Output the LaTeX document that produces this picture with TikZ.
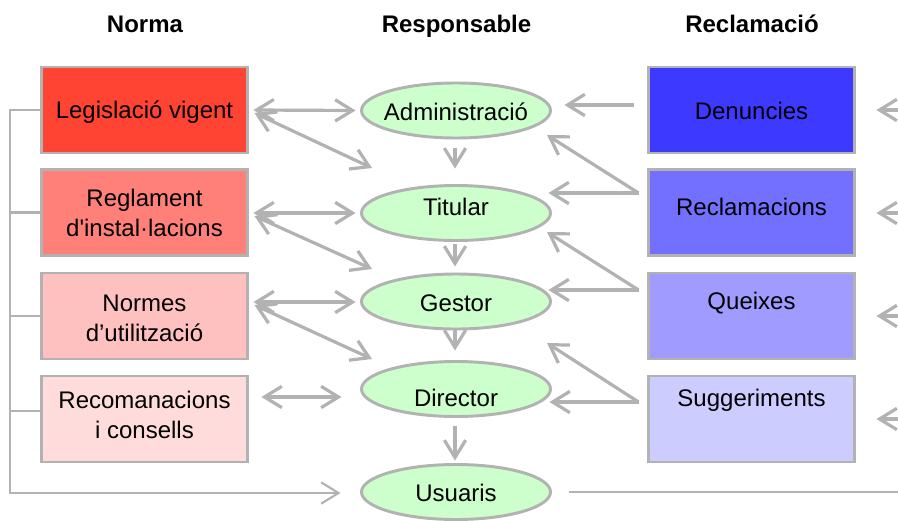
\documentclass[tikz,border=0pt]{standalone}
\usepackage{fontspec}
\setmainfont{Liberation Sans}
\usetikzlibrary{arrows.meta,shapes.geometric}
\definecolor{lgray}{RGB}{178,178,178}
\definecolor{egreen}{RGB}{204,255,204}
\definecolor{rA}{RGB}{255,68,51}
\definecolor{rB}{RGB}{255,128,120}
\definecolor{rC}{RGB}{255,192,192}
\definecolor{rD}{RGB}{255,220,220}
\definecolor{bA}{RGB}{61,57,255}
\definecolor{bB}{RGB}{116,112,255}
\definecolor{bC}{RGB}{160,156,255}
\definecolor{bD}{RGB}{204,204,255}
\begin{document}
\begin{tikzpicture}[x=0.75pt,y=-0.75pt,
  every node/.style={font=\fontsize{18}{22.5}\selectfont},
  box/.style={draw=lgray,line width=2.2pt,minimum width=154.5pt,minimum height=64.5pt,inner sep=0pt},
  ell/.style={ellipse,draw=lgray,line width=2.2pt,fill=egreen,minimum width=141.75pt,minimum height=41.25pt,inner sep=0pt},
  txt/.style={align=center,text=black,inner sep=0pt},
  hd/.style={font=\fontsize{18}{22.5}\selectfont\bfseries,anchor=base},
  con/.style={draw=lgray,line width=2.4pt},
  thin/.style={draw=lgray,line width=1.6pt},
  arr/.style={con,-{Straight Barb[length=13pt,width=16pt]}},
  tarr/.style={thin,-{Straight Barb[length=13pt,width=16pt]}},
  darr/.style={con,{Straight Barb[length=13pt,width=16pt]}-{Straight Barb[length=13pt,width=16pt]}},
]
\fill[white] (0,0) rectangle (898,521);
\useasboundingbox (0,0) rectangle (898,521);

% headers
\node[hd] (hn) at (145,32) {Norma};
\node[hd] (hr) at (456.5,32) {Responsable};
\node[hd] (hc) at (752,32) {Reclamació};

% left boxes
\node[box,fill=rA] (leg) at (144.5,110) {};
\node[txt,yshift=-1.5pt] at (leg.center) {Legislació vigent};
\node[box,fill=rB] (reg) at (144.5,212.5) {};
\node[txt] at (reg.center) {Reglament\\d\textquotesingle instal·lacions};
\node[box,fill=rC] (nor) at (144.5,316) {};
\node[txt,yshift=-1.5pt] at (nor.center) {Normes\\d’utilització};
\node[box,fill=rD] (rec) at (144.5,419) {};
\node[txt,yshift=3pt] at (rec.center) {Recomanacions\\i consells};

% right boxes
\node[box,fill=bA] (den) at (751.5,110) {};
\node[txt,yshift=-0.75pt] at (den.center) {Denuncies};
\node[box,fill=bB] (recl) at (751.5,212.5) {};
\node[txt,yshift=4.1pt] at (recl.center) {Reclamacions};
\node[box,fill=bC] (que) at (751.5,316) {};
\node[txt,yshift=9.75pt] at (que.center) {Queixes};
\node[box,fill=bD] (sug) at (751.5,419) {};
\node[txt,yshift=14.25pt] at (sug.center) {Suggeriments};

% ellipses
\node[ell] (adm) at (456,110.5) {};
\node[txt,yshift=-1.1pt] at (adm.center) {Administració};
\node[ell] (tit) at (456,213) {};
\node[txt,yshift=4.5pt] at (tit.center) {Titular};
\node[ell] (ges) at (456,301.5) {};
\node[txt,yshift=-1.1pt] at (ges.center) {Gestor};
\node[ell] (dir) at (456,389) {};
\node[txt,yshift=-6.75pt] at (dir.center) {Director};
\node[ell] (usu) at (456,492) {};
\node[txt,yshift=-0.75pt] at (usu.center) {Usuaris};

% left connectors
\draw[darr] ([shift={(4.5,0)}]leg.east) -- ([shift={(-4.5,0)}]adm.west);
\draw[darr] ([shift={(5.5,3)}]leg.east) -- ([shift={(-84,-45)}]tit.center);
\draw[darr] ([shift={(4.5,0.5)}]reg.east) -- ([shift={(-4.5,0)}]tit.west);
\draw[darr] ([shift={(5.5,3.5)}]reg.east) -- ([shift={(-84,-32.5)}]ges.center);
\draw[darr] ([shift={(4.5,-14)}]nor.east) -- ([shift={(-4.5,0.5)}]ges.west);
\draw[darr] ([shift={(5.5,-11)}]nor.east) -- ([shift={(-84,-30)}]dir.center);
\draw[darr] ([shift={(12.5,-22)}]rec.east) -- ([shift={(-18.5,8)}]dir.west);

% vertical connectors
\draw[arr] ([shift={(-1,9)}]adm.south) -- ([shift={(-1,-15.5)}]tit.north);
\draw[arr] ([shift={(-1,2.5)}]tit.south) -- ([shift={(-1,-6)}]ges.north);
\draw[arr] ([shift={(-1,-2)}]ges.south) -- ([shift={(-1,-9.5)}]dir.north);
\draw[arr] ([shift={(-1,8.5)}]dir.south) -- ([shift={(-1,-2.5)}]usu.north);

% right connectors
\draw[arr] ([shift={(-13.5,-5)}]den.west) -- ([shift={(12.5,-5.5)}]adm.east);
\draw[arr] ([shift={(-8.5,-19.5)}]recl.west) -- ([shift={(91,24.5)}]adm.center);
\draw[arr] ([shift={(-8.5,-19.5)}]recl.west) -- ([shift={(-3.5,-20)}]tit.east);
\draw[arr] ([shift={(-8.5,-26)}]que.west) -- ([shift={(91,19)}]tit.center);
\draw[arr] ([shift={(-8.5,-26)}]que.west) -- ([shift={(-3.5,-11.5)}]ges.east);
\draw[arr] ([shift={(-8.5,-17)}]sug.west) -- ([shift={(91,41.5)}]ges.center);
\draw[arr] ([shift={(-8.5,-17)}]sug.west) -- ([shift={(-2.5,13)}]dir.east);

% far right incoming arrows
\coordinate (e1) at (898,110);
\coordinate (e2) at (898,213);
\coordinate (e3) at (898,316);
\coordinate (e4) at (898,419);
\coordinate (e5) at (898,492);
\draw[arr] (e1) -- ([shift={(20.5,0)}]den.east);
\draw[arr] (e2) -- ([shift={(20.5,0.5)}]recl.east);
\draw[arr] (e3) -- ([shift={(20.5,0)}]que.east);
\draw[arr] (e4) -- ([shift={(20.5,0)}]sug.east);
\draw[thin] ([shift={(17,0)}]usu.east) -- (e5);

% left bracket
\coordinate (br) at (10,110);
\coordinate (brb) at (10,493);
\coordinate (rt) at ([shift={(0,-8)}]rec.west);
\draw[tarr] (leg.west) -- (br) -- (brb) -- ([shift={(-19.5,1)}]usu.west);
\draw[thin] (reg.west) -- (reg.west -| br);
\draw[thin] (nor.west) -- (nor.west -| br);
\draw[thin] (rt) -- (rt -| br);
\end{tikzpicture}
\end{document}
